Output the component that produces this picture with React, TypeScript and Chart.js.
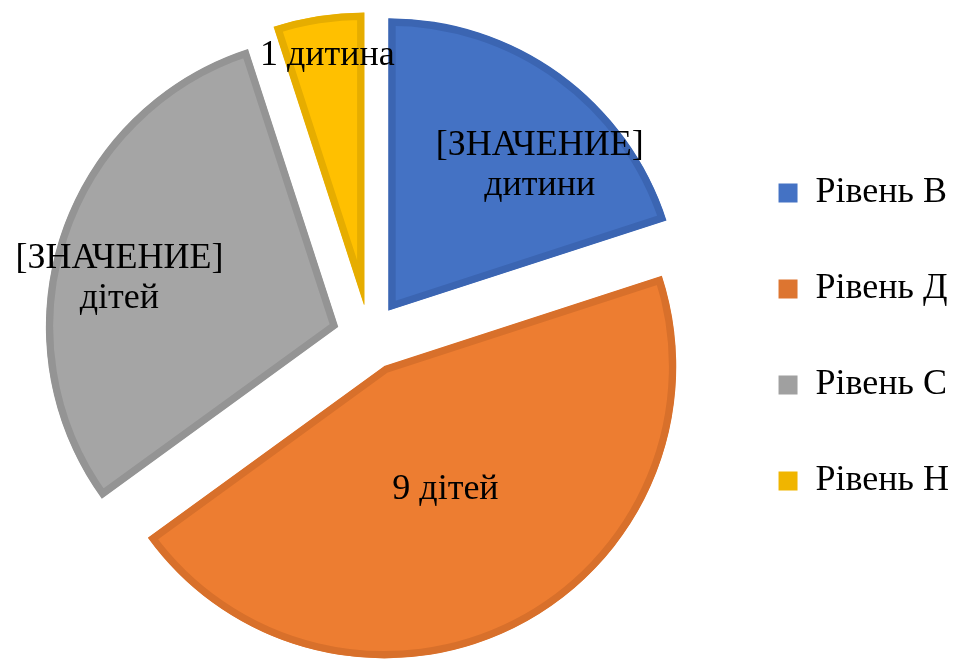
import React, { useEffect, useRef } from "react";
import { Chart, registerables } from "chart.js";

Chart.register(...registerables);

const categories = ["Рівень В", "Рівень Д", "Рівень С", "Рівень Н"];
const values = [4, 9, 6, 1];
const dataLabelLines = [
  ["[ЗНАЧЕНИЕ]", "дитини"],
  ["9 дітей"],
  ["[ЗНАЧЕНИЕ]", "дітей"],
  ["1 дитина"],
];
const fillColors = ["#4472C4", "#ED7D31", "#A5A5A5", "#FFC000"];
const borderColors = ["#3B65B2", "#D8702B", "#949494", "#E6AD00"];
const legendColors = ["#4472C4", "#DD7530", "#A0A0A0", "#F0B500"];
// label placement: fraction of radius and angular shift from slice bisector (degrees)
const labelRadiusFrac = [0.717, 0.47, 0.766, 0.863];
const labelAngleShift = [10.2, 0.5, -5.6, 0.6];

const PIE_RADIUS = 292;
const EXPLODE = 33; // px each slice is pulled out along its bisector
const FONT = "'Liberation Serif', 'Times New Roman', serif";

// pull slices out (explode) by moving each arc's own centre along its bisector
const explode = {
  id: "explode",
  afterDatasetsUpdate(chart: any) {
    const meta = chart.getDatasetMeta(0);
    const ca = chart.chartArea;
    const cx = (ca.left + ca.right) / 2;
    const cy = (ca.top + ca.bottom) / 2;
    meta.data.forEach((el: any) => {
      const mid = (el.startAngle + el.endAngle) / 2;
      el.x = cx + Math.cos(mid) * EXPLODE;
      el.y = cy + Math.sin(mid) * EXPLODE;
    });
  },
};

const sliceLabels = {
  id: "sliceLabels",
  afterDatasetsDraw(chart: any) {
    const ctx = chart.ctx;
    const meta = chart.getDatasetMeta(0);
    ctx.save();
    ctx.fillStyle = "#000";
    ctx.font = `36px ${FONT}`;
    ctx.textAlign = "center";
    ctx.textBaseline = "middle";
    meta.data.forEach((el: any, i: number) => {
      const mid = (el.startAngle + el.endAngle) / 2;
      const ang = mid + (labelAngleShift[i] * Math.PI) / 180;
      const r = labelRadiusFrac[i] * el.outerRadius;
      const x = el.x + Math.cos(ang) * r;
      const y = el.y + Math.sin(ang) * r;
      const lines = dataLabelLines[i];
      const lh = 40;
      lines.forEach((t, k) => {
        ctx.fillText(t, x, y + (k - (lines.length - 1) / 2) * lh);
      });
    });
    ctx.restore();
  },
};

export default function App() {
  const ref = useRef<HTMLCanvasElement>(null);
  useEffect(() => {
    if (!ref.current) return;
    const baseGen = (Chart as any).overrides.doughnut.plugins.legend.labels.generateLabels;
    const chart = new Chart(ref.current, {
      type: "pie",
      data: {
        labels: categories,
        datasets: [
          {
            data: values,
            backgroundColor: fillColors,
            borderColor: borderColors,
            borderWidth: 7,
            borderAlign: "inner",
            borderJoinStyle: "miter",
            radius: PIE_RADIUS,
          } as any,
        ],
      },
      options: {
        animation: false,
        responsive: false,
        layout: { padding: { top: 15, bottom: 0, left: 20, right: 5 } },
        plugins: {
          tooltip: { enabled: false },
          legend: {
            position: "right",
            align: "center",
            labels: {
              boxWidth: 19,
              boxHeight: 19,
              padding: 60,
              color: "#000",
              font: { family: FONT, size: 36 },
              generateLabels: (c: any) =>
                baseGen(c).map((l: any, i: number) => ({
                  ...l,
                  fillStyle: legendColors[i],
                  strokeStyle: legendColors[i],
                  lineWidth: 0,
                })),
            },
          },
        },
      },
      plugins: [explode, sliceLabels],
    });
    return () => chart.destroy();
  }, []);
  return (
    <div style={{ position: "absolute", left: 0, top: 0, width: 964, height: 659, background: "#fff" }}>
      <canvas ref={ref} width={964} height={659} style={{ display: "block" }} />
    </div>
  );
}
